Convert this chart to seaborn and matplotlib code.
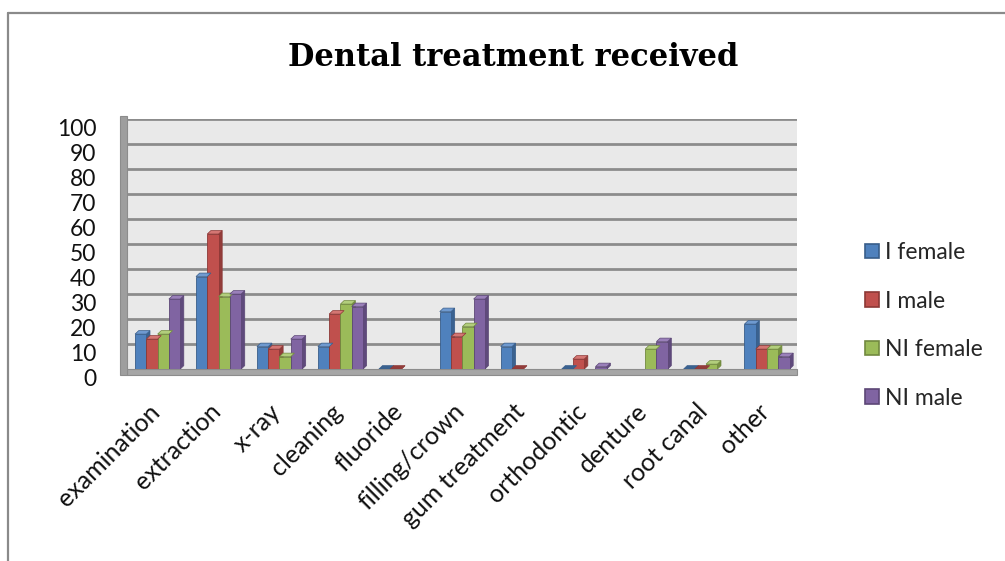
import numpy as np
import pandas as pd
import seaborn as sns
import matplotlib
matplotlib.use("Agg")
import matplotlib.pyplot as plt
import matplotlib.transforms as mtransforms
from matplotlib.patches import Polygon, Rectangle
from matplotlib.lines import Line2D

categories = ["examination", "extraction", "x-ray", "cleaning", "fluoride",
              "filling/crown", "gum treatment", "orthodontic", "denture",
              "root canal", "other"]
series_names = ["I female", "I male", "NI female", "NI male"]
i_female = [14, 37, 9, 9, 0, 23, 9, 0, np.nan, 0, 18]
i_male = [12, 54, 8, 22, 0, 13, 0, 4, np.nan, 0, 8]
ni_female = [14, 29, 5, 26, np.nan, 17, np.nan, np.nan, 8, 2, 8]
ni_male = [28, 30, 12, 25, np.nan, 28, np.nan, 1, 11, np.nan, 5]
y_ticks = list(range(0, 101, 10))

face_colors = ["#4F81BD", "#C0504D", "#9BBB59", "#8064A2"]
edge_colors = ["#385D8A", "#8C3836", "#71893F", "#5C4776"]
side_colors = ["#3A6290", "#933C3A", "#76913F", "#5F4A7C"]
top_colors = ["#6F9AD0", "#D47673", "#B2CE7C", "#9A80BA"]

df = pd.DataFrame({
    "category": np.repeat(categories, 4),
    "series": series_names * len(categories),
    "value": np.column_stack([i_female, i_male, ni_female, ni_male]).ravel(),
})

sns.set_style("white")
plt.rcParams["font.family"] = ["Lato", "DejaVu Sans"]

fig = plt.figure(figsize=(10.05, 5.61), dpi=100)
ax = fig.add_axes([0.1265, 0.342, 0.667, 0.446])

# back wall and gridlines
ax.set_facecolor("#E9E9E9")
for t in y_ticks[1:]:
    ax.axhline(t, color="#8C8C8C", lw=2.0, zorder=0.5)

sns.barplot(data=df, x="category", y="value", hue="series",
            hue_order=series_names, order=categories,
            palette=face_colors, width=0.74, gap=0.0, ax=ax,
            legend=False, saturation=1, zorder=3)

# give each bar a shaded side and top face for depth
depth_x = 0.06
depth_y = 1.4
n = len(categories)
for k, container in enumerate(ax.containers):
    for patch in container:
        h = patch.get_height()
        if np.isnan(h):
            patch.set_visible(False)
            continue
        x0 = patch.get_x()
        w = patch.get_width()
        patch.set_edgecolor(edge_colors[k])
        patch.set_linewidth(0.6)
        side = Polygon([(x0 + w, 0), (x0 + w + depth_x, depth_y),
                        (x0 + w + depth_x, h + depth_y), (x0 + w, h)],
                       closed=True, facecolor=side_colors[k],
                       edgecolor=edge_colors[k], lw=0.5, zorder=2.9)
        top = Polygon([(x0, h), (x0 + depth_x, h + depth_y),
                       (x0 + w + depth_x, h + depth_y), (x0 + w, h)],
                      closed=True, facecolor=top_colors[k] if h > 0 else side_colors[k],
                      edgecolor=edge_colors[k], lw=0.5, zorder=3.1)
        ax.add_patch(side)
        ax.add_patch(top)

ax.set_xlim(-0.5, n - 0.5)
ax.set_ylim(0, 100)
ax.set_yticks(y_ticks)
ax.set_xlabel("")
ax.set_ylabel("")
for s in ax.spines.values():
    s.set_visible(False)

ax.tick_params(axis="y", length=0, pad=22, labelsize=16.5, labelcolor="#111111")
ax.tick_params(axis="x", length=0, pad=22, labelsize=18, labelcolor="#111111")
ax.set_xticks(range(n))
ax.set_xticklabels(categories, rotation=45, ha="right", va="top",
                   rotation_mode="anchor")
shift = mtransforms.ScaledTranslation(-0.1, 0.0, fig.dpi_scale_trans)
for lbl in ax.get_xticklabels():
    lbl.set_transform(lbl.get_transform() + shift)
for lbl in ax.get_yticklabels():
    lbl.set_verticalalignment("top")

# floor and side wall edges
floor = Rectangle((-0.5, -2.2), n, 2.2, transform=ax.transData,
                  facecolor="#A6A6A6", edgecolor="#8C8C8C", lw=0.8,
                  clip_on=False, zorder=1)
ax.add_patch(floor)
wall = Rectangle((-0.62, -2.2), 0.12, 103.2, transform=ax.transData,
                 facecolor="#9E9E9E", edgecolor="#8C8C8C", lw=0.8,
                 clip_on=False, zorder=1)
ax.add_patch(wall)

fig.text(0.511, 0.898, "Dental treatment received", ha="center", va="center",
         fontsize=22, fontweight="bold", color="black", family=["DejaVu Serif"])

handles = [Rectangle((0, 0), 1, 1, facecolor=face_colors[i],
                     edgecolor=edge_colors[i], lw=1.2) for i in range(4)]
fig.legend(handles, series_names, loc="center left",
           bbox_to_anchor=(0.84, 0.42), frameon=False, fontsize=16.5,
           handlelength=0.6, handleheight=0.6, handletextpad=0.3,
           labelspacing=1.2)

# outer frame (top and left edges)
fig.add_artist(Line2D([0.0075, 0.0075], [0.0, 0.977], color="#8A8A8A", lw=1.6,
                      transform=fig.transFigure))
fig.add_artist(Line2D([0.0075, 1.0], [0.977, 0.977], color="#8A8A8A", lw=1.6,
                      transform=fig.transFigure))

fig.savefig("out.png", dpi=100)
